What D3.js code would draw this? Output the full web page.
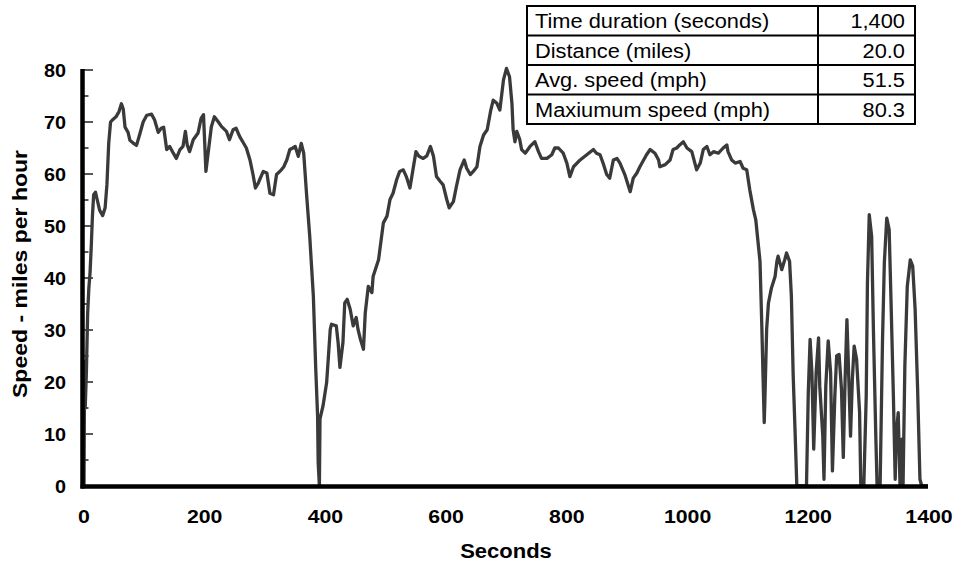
<!DOCTYPE html>
<html>
<head>
<meta charset="utf-8">
<script src="https://cdn.jsdelivr.net/npm/d3@7"></script>
<style>
  html, body { margin: 0; padding: 0; background: #fff; }
  svg { display: block; }
  text { font-family: "Liberation Sans", Arial, sans-serif; }
</style>
</head>
<body>
<svg id="chart" width="955" height="563"></svg>
<script>
// ---- data ----
const seconds = [0,1,2,4,6,8,10,12,14,16,19,22,26,31,35,38,41,44,48,53,58,62,65,68,73,76,81,87,92,98,104,112,117,123,128,132,137,142,148,153,159,164,168,171,175,181,189,194,198,202,205,211,216,222,228,236,241,247,252,258,263,269,275,280,284,289,291,297,303,308,314,319,327,331,336,341,346,350,355,360,364,369,374,380,384,387,388,390,
391,396,402,408,410,418,421,424,429,432,436,441,446,451,454,458,463,466,471,477,479,488,496,502,507,512,518,523,529,534,540,545,550,555,562,568,574,579,584,590,595,601,605,612,617,623,630,634,640,645,651,656,662,668,674,678,684,689,695,700,705,709,711,714,717,722,725,731,739,747,753,758,767,775,780,786,794,800,805,811,822,833,844,849,855,860,866,871,877,883,888,896,905,910,916,921,932,938,946,952,954,963,971,976,982,987,993,999,1007,1015,1021,1026,1032,1037,1043,1051,1059,1065,1067,1073,1079,1087,1092,1098,1103,1109,1113,1120,1123,1125,1127,1128,1131,1134,1139,1145,1148,1150,1156,1161,1164,1169,1172,1175,1178,1181,1197,1200,1203,1206,1209,1213,1217,1219,1224,1226,1229,1233,1237,1240,1244,1247,1251,1255,1258,1261,1264,1266,1270,1273,1276,1280,1285,1287,1292,1296,1298,1301,1305,1308,1312,1314,1319,1323,1326,1330,1334,1337,1341,1344,1346,1349,1352,1355,1357,1360,1364,1369,1373,1377,1381,1385,1388,1398];
const speed = [0,24,15,22,33,38,41,46,52,56,56.5,55,53,52,53.5,58,66,70,70.5,71,72,73.5,72.5,69,68,66.5,66,65.5,67.5,70,71.3,71.5,70.4,68,68.8,69,64.7,65.3,64,63,64.7,65.3,68.2,65.6,64.3,66.6,67.9,70.7,71.4,60.5,63.4,69.1,71,70.1,69.1,68.2,66.6,68.5,68.8,67.2,66.2,65,62.7,59.9,57.3,58.3,58.9,60.5,60.2,56.3,56,59.9,60.8,61.4,62.7,64.7,65,65.3,63.4,65.9,64,55.7,48,36.5,22.4,13.5,4.5,0,
12.9,15.4,19.9,30.1,31.1,30.8,27.6,22.8,27.6,35.2,35.9,34,30.8,32.4,30.1,28.2,26.3,33.3,38.4,37.2,40.3,43.5,50.6,51.9,55.1,56.3,58.9,60.5,60.8,59.5,57.3,60.8,64.3,63.4,63,63.5,65.3,63.4,59.5,58.6,57.9,55.1,53.5,54.7,57.6,60.8,62.7,61.1,59.9,60.5,61.4,65.3,67.5,68.5,72.3,74.2,73.6,72.3,78.1,80.3,78.7,73.6,68.5,66.2,68.2,66.6,64.7,64,65.3,66.2,64.3,63,63,63.7,65,65,64,62.1,59.5,61.4,62.7,63.7,64.7,64,63.7,62.1,59.9,59.2,62.7,63,62.1,59.9,56.6,59.2,60.2,61.4,63.7,64.7,64,62.7,61.4,61.8,62.7,64.7,65,65.6,66.2,65,64.3,60.8,62.1,64.7,65.3,63.7,64.3,64,65,65.6,64.3,62.7,62.1,62.4,61.1,60.8,57,53.2,51.2,43.2,30.8,21.2,12.2,16.1,30.1,35.2,38.1,40.3,43.2,44.2,41.6,43.5,44.8,43.2,36.5,21.2,10.9,0,0,18,28.2,21.8,7.1,21.8,28.5,19.2,9.6,1.3,19.2,27.9,21.8,2.9,17.3,25,25.3,18.6,5.5,20.5,32,25,9.6,20.5,26.9,24.4,14.1,0,0,17.3,39,52.2,48,29.5,9,0,0,28.2,42.9,51.5,49.3,35.9,17.3,1.3,10.3,14.1,0,9,0,23.1,38.4,43.5,42.3,34,19.2,1.3,0,0];

const xTicks = [0,200,400,600,800,1000,1200,1400];
const yTicks = [0,10,20,30,40,50,60,70,80];
const yMinorTicks = [5,15,25,35,45,55,65,75];

const statLabels = ["Time duration (seconds)", "Distance (miles)", "Avg. speed (mph)", "Maxiumum speed (mph)"];
const statValues = ["1,400", "20.0", "51.5", "80.3"];

// ---- layout ----
const svg = d3.select("#chart");
const x = d3.scaleLinear().domain([0, 1400]).range([84, 929]);
const y = d3.scaleLinear().domain([0, 80]).range([486, 70]);

function stretch(sel, k) {
  sel.each(function() {
    const w = this.getComputedTextLength();
    d3.select(this).attr("textLength", w * k).attr("lengthAdjust", "spacingAndGlyphs");
  });
}

// y tick marks (inward)
svg.append("g").selectAll("line.maj").data(yTicks).join("line")
  .attr("x1", 83).attr("x2", 93).attr("y1", d => y(d)).attr("y2", d => y(d))
  .attr("stroke", "#222").attr("stroke-width", 1.5);
svg.append("g").selectAll("line.min").data(yMinorTicks).join("line")
  .attr("x1", 83).attr("x2", 88.5).attr("y1", d => y(d)).attr("y2", d => y(d))
  .attr("stroke", "#222").attr("stroke-width", 1.5);

// y tick labels
const yl = svg.append("g").selectAll("text").data(yTicks).join("text")
  .attr("x", 66).attr("y", d => y(d) + 6.5)
  .attr("text-anchor", "end").attr("font-size", "18px").attr("font-weight", "bold")
  .attr("fill", "#000").text(d => d);
stretch(yl, 1.1);

// x tick labels
const xl = svg.append("g").selectAll("text").data(xTicks).join("text")
  .attr("x", d => x(d)).attr("y", 523)
  .attr("text-anchor", "middle").attr("font-size", "18.5px").attr("font-weight", "bold")
  .attr("fill", "#000").text(d => d);
stretch(xl, 1.15);

// data line
const line = d3.line().x((d, i) => x(seconds[i])).y(d => y(d));
svg.append("path").datum(speed)
  .attr("d", line).attr("fill", "none")
  .attr("stroke", "#3a3a3a").attr("stroke-width", 3.3)
  .attr("stroke-linejoin", "round").attr("stroke-linecap", "butt");

// axes lines
svg.append("line").attr("x1", 82.5).attr("x2", 82.5).attr("y1", 69).attr("y2", 488.5)
  .attr("stroke", "#000").attr("stroke-width", 4.5);
svg.append("line").attr("x1", 80.5).attr("x2", 928).attr("y1", 486.5).attr("y2", 486.5)
  .attr("stroke", "#000").attr("stroke-width", 4.5);

// axis titles
const yt = svg.append("text")
  .attr("transform", "translate(27,274) rotate(-90)")
  .attr("text-anchor", "middle").attr("font-size", "20px").attr("font-weight", "bold")
  .text("Speed - miles per hour");
stretch(yt, 1.15);
const xt = svg.append("text")
  .attr("x", 506).attr("y", 558)
  .attr("text-anchor", "middle").attr("font-size", "20px").attr("font-weight", "bold")
  .text("Seconds");
stretch(xt, 1.1);

// stats table
const tX0 = 527, tX1 = 915, tXdiv = 818;
const rowEdges = [6, 35.5, 65, 94.5, 124];
const tg = svg.append("g");
tg.append("rect").attr("x", tX0).attr("y", rowEdges[0]).attr("width", tX1 - tX0).attr("height", rowEdges[4] - rowEdges[0])
  .attr("fill", "#fff").attr("stroke", "#000").attr("stroke-width", 2);
tg.selectAll("line.row").data(rowEdges.slice(1, 4)).join("line")
  .attr("x1", tX0).attr("x2", tX1).attr("y1", d => d).attr("y2", d => d)
  .attr("stroke", "#000").attr("stroke-width", 2);
tg.append("line").attr("x1", tXdiv).attr("x2", tXdiv).attr("y1", rowEdges[0]).attr("y2", rowEdges[4])
  .attr("stroke", "#000").attr("stroke-width", 2);
const lab = tg.selectAll("text.lab").data(statLabels).join("text")
  .attr("x", 535).attr("y", (d, i) => (rowEdges[i] + rowEdges[i + 1]) / 2 + 7.3)
  .attr("font-size", "20px").attr("fill", "#000").text(d => d);
stretch(lab, 1.09);
const val = tg.selectAll("text.val").data(statValues).join("text")
  .attr("x", 905).attr("y", (d, i) => (rowEdges[i] + rowEdges[i + 1]) / 2 + 7.3)
  .attr("text-anchor", "end").attr("font-size", "20px").attr("fill", "#000").text(d => d);
stretch(val, 1.09);
</script>
</body>
</html>
